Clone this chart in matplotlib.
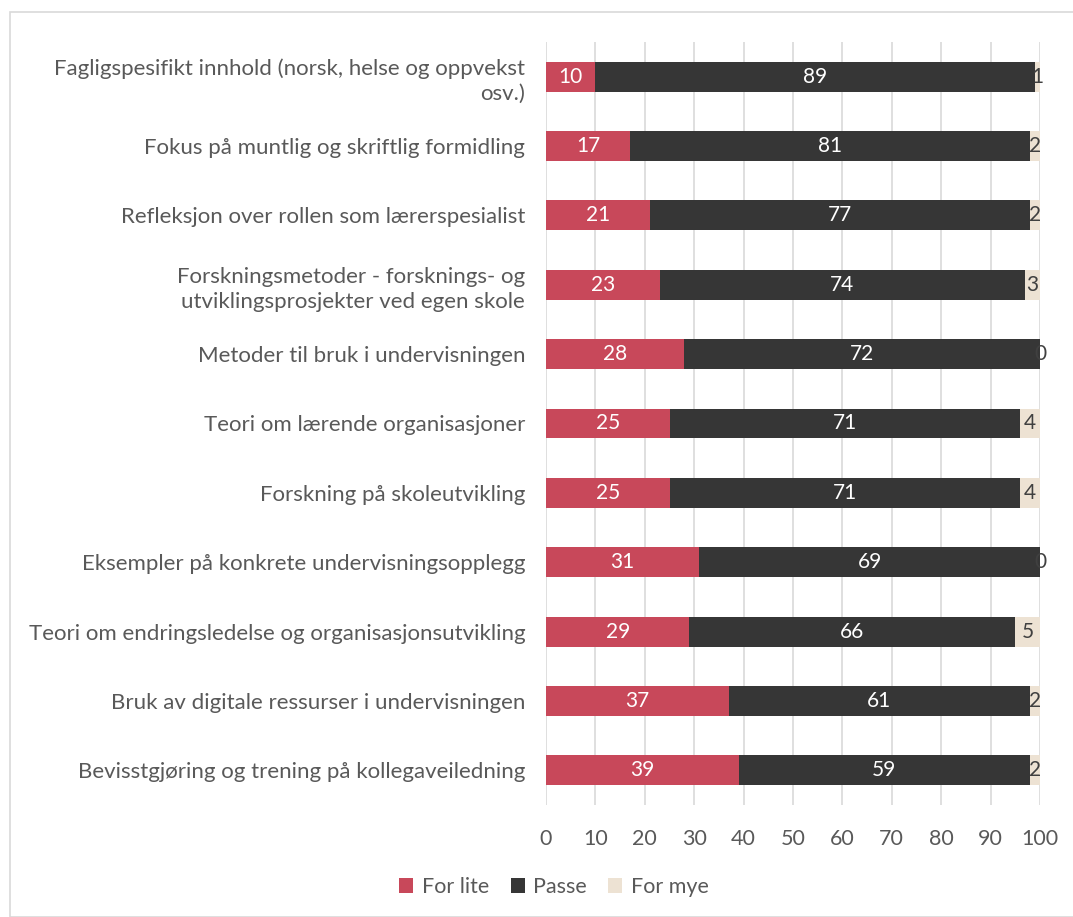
import matplotlib
matplotlib.use("Agg")
import matplotlib.pyplot as plt
from matplotlib.patches import Rectangle

plt.rcParams['font.family'] = ['Lato', 'DejaVu Sans']

categories = [
    "Fagligspesifikt innhold (norsk, helse og oppvekst\nosv.)",
    "Fokus på muntlig og skriftlig formidling",
    "Refleksjon over rollen som lærerspesialist",
    "Forskningsmetoder - forsknings- og\nutviklingsprosjekter ved egen skole",
    "Metoder til bruk i undervisningen",
    "Teori om lærende organisasjoner",
    "Forskning på skoleutvikling",
    "Eksempler på konkrete undervisningsopplegg",
    "Teori om endringsledelse og organisasjonsutvikling",
    "Bruk av digitale ressurser i undervisningen",
    "Bevisstgjøring og trening på kollegaveiledning",
]
for_lite = [10, 17, 21, 23, 28, 25, 25, 31, 29, 37, 39]
passe = [89, 81, 77, 74, 72, 71, 71, 69, 66, 61, 59]
for_mye = [1, 2, 2, 3, 0, 4, 4, 0, 5, 2, 2]

series = [
    ("For lite", for_lite, "#C8485A", "white"),
    ("Passe", passe, "#363636", "white"),
    ("For mye", for_mye, "#EDE2D3", "#404040"),
]

W, H = 1073, 917
fig = plt.figure(figsize=(W / 100, H / 100), dpi=100)
fig.patches.append(Rectangle((10 / W, 0), 1.2, 1 - 12 / H, transform=fig.transFigure,
                             fill=False, edgecolor="#d9d9d9", linewidth=1.2))
ax = fig.add_axes([546 / W, 1 - 805 / H, (1040 - 546) / W, (805 - 42) / H])

ypos = list(range(len(categories)))
left = [0] * len(categories)
for name, vals, color, tcolor in series:
    bars = ax.barh(ypos, vals, left=left, height=0.43, color=color, label=name, zorder=3)
    for b, v, l in zip(bars, vals, left):
        ax.text(l + v / 2, b.get_y() + b.get_height() / 2, str(v), ha="center", va="center",
                color=tcolor, fontsize=15, zorder=4, clip_on=False)
    left = [a + b for a, b in zip(left, vals)]

ax.set_xlim(0, 100)
ax.set_ylim(len(categories) - 0.5, -0.5)
ax.set_xticks(range(0, 101, 10))
ax.set_yticks(ypos)
ax.set_yticklabels(categories, fontsize=16, color="#595959", ha="right",
                   multialignment="right", linespacing=1.3)
ax.tick_params(axis="y", length=0, pad=15)
ax.tick_params(axis="x", length=0, labelsize=15.5, labelcolor="#595959", pad=17)
ax.grid(axis="x", color="#d9d9d9", linewidth=1.2, zorder=0)
for s in ax.spines.values():
    s.set_visible(False)

leg = fig.legend(loc="center", bbox_to_anchor=(554 / W, 1 - 887 / H),
                 ncol=3, frameon=False, fontsize=15.5, handlelength=0.65, handleheight=0.65,
                 columnspacing=1.0, handletextpad=0.4)
for t in leg.get_texts():
    t.set_color("#595959")

fig.savefig("out.png", dpi=100)
